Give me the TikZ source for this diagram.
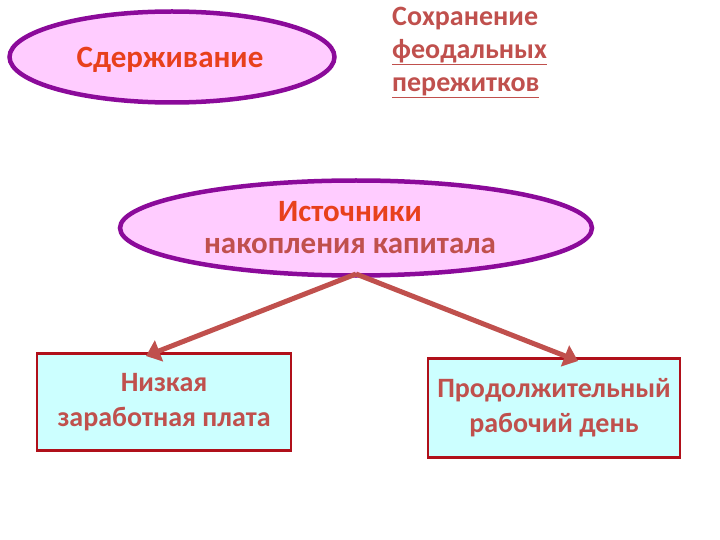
\documentclass[tikz,border=0pt]{standalone}
\usepackage{fontspec}
\setmainfont{Carlito}
\usetikzlibrary{shapes.geometric,arrows.meta}
\definecolor{brn}{HTML}{C0504D}
\definecolor{rd}{HTML}{E8401C}
\definecolor{pur}{HTML}{8B0A9A}
\definecolor{pnk}{HTML}{FFCCFF}
\definecolor{cyn}{HTML}{CCFFFF}
\definecolor{drd}{HTML}{B0101A}
\tikzset{
 ell/.style={ellipse,draw=pur,line width=4.5pt,fill=pnk,inner sep=0pt},
 box/.style={rectangle,draw=drd,line width=2.5pt,fill=cyn,inner sep=0pt,align=center,font=\fontsize{28}{35}\selectfont\bfseries,text=brn},
 arr/.style={draw=brn,line width=5pt,-{Triangle[length=14pt,width=22pt]}}
}
\begin{document}
\begin{tikzpicture}[x=1pt,y=-1pt]
\useasboundingbox (0,0) rectangle (720,540);
\node[ell,minimum width=325pt,minimum height=91pt] (e1) at (172,57) {};
\node[text=rd,font=\fontsize{31}{34}\selectfont\bfseries] (t1) at (170,60) {Сдерживание};
\node[anchor=north west,text=brn,align=left,font=\fontsize{28}{33}\selectfont\bfseries,inner sep=0pt] (t2) at (392,7) {Сохранение\\\underline{феодальных}\\\underline{пережитков}};
\node[ell,minimum width=472pt,minimum height=95pt] (e2) at (356,228) {};
\node[text=rd,font=\fontsize{31}{34}\selectfont\bfseries] (t3) at (350,212) {Источники};
\node[text=brn,font=\fontsize{31}{34}\selectfont\bfseries] (t4) at (350,246) {накопления капитала};
\node[box,minimum width=254pt,minimum height=97pt] (b1) at (164,402) {Низкая\\заработная плата};
\node[box,minimum width=252pt,minimum height=99pt] (b2) at (554,408) {Продолжительный\\рабочий день};
\coordinate (s) at (356,274);
\draw[arr] (s) -- (146,356);
\draw[arr] (s) -- (578,361);
\end{tikzpicture}
\end{document}
